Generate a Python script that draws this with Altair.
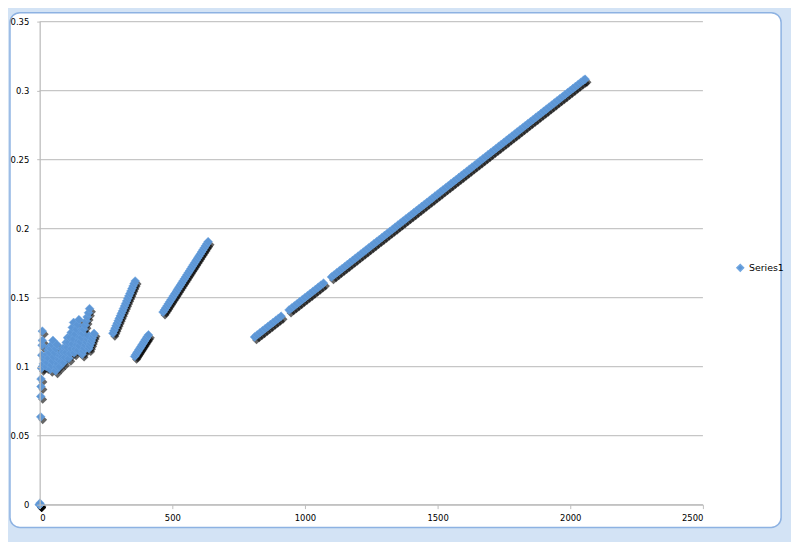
import altair as alt
import pandas as pd

# points stacked at the origin
zero_x = [0, 0, 0, 0, 1]
zero_y = [0.0, 0.0, 0.0, 0.0, 0.001]

# single points just right of the y axis
left_x = [4, 4, 5, 5, 7, 8, 9, 10, 10]
left_y = [0.0636, 0.0784, 0.0856, 0.0911, 0.0988, 0.1083, 0.1155, 0.119, 0.1257]

# dense cluster 0..200
cluster_x = [
    10, 14, 18, 23, 27, 31, 35,
    25, 29, 33, 38, 42, 46, 50,
    40, 44, 48, 53, 57, 61, 65,
    60, 64, 68, 73, 77, 81, 85,
    75, 80, 85, 90, 95, 100, 105,
    90, 95, 100, 104, 109, 114, 119, 123, 128,
    110, 115, 120, 124, 129, 134, 139, 143, 148,
    130, 135, 140, 145, 150, 155, 160,
    145, 149, 154, 158, 162, 166, 171, 175, 179, 184, 188,
    160, 164, 168, 172, 177, 181, 185,
    185, 188, 192, 195, 198, 202, 205,
]
cluster_y = [
    0.100, 0.102, 0.105, 0.107, 0.109, 0.112, 0.114,
    0.100, 0.103, 0.106, 0.110, 0.113, 0.116, 0.119,
    0.098, 0.101, 0.104, 0.107, 0.110, 0.113, 0.116,
    0.097, 0.100, 0.102, 0.105, 0.108, 0.110, 0.113,
    0.100, 0.1035, 0.107, 0.1105, 0.114, 0.1175, 0.121,
    0.103, 0.1066, 0.1103, 0.1139, 0.1175, 0.1211, 0.1248, 0.1284, 0.132,
    0.106, 0.1095, 0.113, 0.1165, 0.120, 0.1235, 0.127, 0.1305, 0.134,
    0.110, 0.1128, 0.1157, 0.1185, 0.1213, 0.1242, 0.127,
    0.112, 0.115, 0.118, 0.121, 0.124, 0.127, 0.130, 0.133, 0.136, 0.139, 0.142,
    0.109, 0.1112, 0.1133, 0.1155, 0.1177, 0.1198, 0.122,
    0.113, 0.1148, 0.1167, 0.1185, 0.1203, 0.1222, 0.124,
]

# steep run 275..360
seg3_x = [276, 280, 284, 288, 292, 296, 300, 304, 308, 312, 316,
          320, 324, 328, 332, 336, 340, 344, 348, 352, 356, 360]
seg3_y = [0.1242, 0.126, 0.1278, 0.1296, 0.1314, 0.1332, 0.135, 0.1368, 0.1386, 0.1404, 0.1422,
          0.144, 0.1458, 0.1476, 0.1494, 0.1512, 0.153, 0.1548, 0.1566, 0.1584, 0.1602, 0.162]

# short run 358..410
seg4_x = [358, 362, 366, 370, 374, 378, 382, 386, 390, 394, 398, 402, 406, 410]
seg4_y = [0.1074, 0.1086, 0.1098, 0.111, 0.1122, 0.1134, 0.1146, 0.1158, 0.117,
          0.1182, 0.1194, 0.1206, 0.1218, 0.123]

# run 465..635
seg2_x = [465, 470, 475, 480, 485, 490, 495, 500, 505, 510, 515, 520, 525, 530, 535,
          540, 545, 550, 555, 560, 565, 570, 575, 580, 585, 590, 595, 600, 605, 610,
          615, 620, 625, 630, 635]
seg2_y = [0.1395, 0.141, 0.1425, 0.144, 0.1455, 0.147, 0.1485, 0.15, 0.1515, 0.153,
          0.1545, 0.156, 0.1575, 0.159, 0.1605, 0.162, 0.1635, 0.165, 0.1665, 0.168,
          0.1695, 0.171, 0.1725, 0.174, 0.1755, 0.177, 0.1785, 0.18, 0.1815, 0.183,
          0.1845, 0.186, 0.1875, 0.189, 0.1905]

# long run 810..2056 (two small breaks)
long_x = [
    810, 820, 830, 840, 850, 860, 870, 880, 890, 900, 910,
    940, 950, 960, 970, 980, 990, 1000, 1010, 1020, 1030, 1040, 1050, 1060, 1070,
    1100, 1110, 1120, 1130, 1140, 1150, 1160, 1170, 1180, 1190,
    1200, 1210, 1220, 1230, 1240, 1250, 1260, 1270, 1280, 1290,
    1300, 1310, 1320, 1330, 1340, 1350, 1360, 1370, 1380, 1390,
    1400, 1410, 1420, 1430, 1440, 1450, 1460, 1470, 1480, 1490,
    1500, 1510, 1520, 1530, 1540, 1550, 1560, 1570, 1580, 1590,
    1600, 1610, 1620, 1630, 1640, 1650, 1660, 1670, 1680, 1690,
    1700, 1710, 1720, 1730, 1740, 1750, 1760, 1770, 1780, 1790,
    1800, 1810, 1820, 1830, 1840, 1850, 1860, 1870, 1880, 1890,
    1900, 1910, 1920, 1930, 1940, 1950, 1960, 1970, 1980, 1990,
    2000, 2010, 2020, 2030, 2040, 2050, 2056,
]
long_y = [
    0.1215, 0.123, 0.1245, 0.126, 0.1275, 0.129, 0.1305, 0.132, 0.1335, 0.135, 0.1365,
    0.141, 0.1425, 0.144, 0.1455, 0.147, 0.1485, 0.15, 0.1515, 0.153, 0.1545, 0.156,
    0.1575, 0.159, 0.1605,
    0.165, 0.1665, 0.168, 0.1695, 0.171, 0.1725, 0.174, 0.1755, 0.177, 0.1785,
    0.18, 0.1815, 0.183, 0.1845, 0.186, 0.1875, 0.189, 0.1905, 0.192, 0.1935,
    0.195, 0.1965, 0.198, 0.1995, 0.201, 0.2025, 0.204, 0.2055, 0.207, 0.2085,
    0.21, 0.2115, 0.213, 0.2145, 0.216, 0.2175, 0.219, 0.2205, 0.222, 0.2235,
    0.225, 0.2265, 0.228, 0.2295, 0.231, 0.2325, 0.234, 0.2355, 0.237, 0.2385,
    0.24, 0.2415, 0.243, 0.2445, 0.246, 0.2475, 0.249, 0.2505, 0.252, 0.2535,
    0.255, 0.2565, 0.258, 0.2595, 0.261, 0.2625, 0.264, 0.2655, 0.267, 0.2685,
    0.27, 0.2715, 0.273, 0.2745, 0.276, 0.2775, 0.279, 0.2805, 0.282, 0.2835,
    0.285, 0.2865, 0.288, 0.2895, 0.291, 0.2925, 0.294, 0.2955, 0.297, 0.2985,
    0.3, 0.3015, 0.303, 0.3045, 0.306, 0.3075, 0.3082,
]

x_ticks = [0, 500, 1000, 1500, 2000, 2500]
y_ticks = [0, 0.05, 0.1, 0.15, 0.2, 0.25, 0.3, 0.35]

xs = zero_x + left_x + cluster_x + seg3_x + seg4_x + seg2_x + long_x
ys = zero_y + left_y + cluster_y + seg3_y + seg4_y + seg2_y + long_y
df = pd.DataFrame({"x": xs, "y": ys, "series": "Series1"})
grid_df = pd.DataFrame({"y": y_ticks})

BLUE = "#5d96d5"

x_scale = alt.Scale(domain=[0, 2500], nice=False)
y_scale = alt.Scale(domain=[0, 0.35], nice=False)

x_enc = alt.X("x:Q", scale=x_scale,
              axis=alt.Axis(values=x_ticks, format="d", title=None, grid=False,
                            tickSize=4, labelPadding=5, zindex=2))
y_enc = alt.Y("y:Q", scale=y_scale,
              axis=alt.Axis(values=y_ticks, format=".2~f", title=None, grid=False,
                            tickSize=3, labelPadding=8, zindex=2))

# the white rounded chart area on the light blue window
frame = alt.Chart(pd.DataFrame({"a": [0]})).mark_rect(
    fill="white", stroke="#8db2e2", strokeWidth=1.5, cornerRadius=10
).encode(x=alt.value(-30), x2=alt.value(749), y=alt.value(-9), y2=alt.value(511))

# horizontal gridlines
grid = alt.Chart(grid_df).mark_rule(color="#c6c6c6", strokeWidth=1.3).encode(
    y=y_enc, x=alt.value(0), x2=alt.value(670),
)

shadow = alt.Chart(df).mark_point(
    shape="diamond", filled=True, size=80, color="black", opacity=0.6,
    xOffset=2, yOffset=3
).encode(x=x_enc, y=y_enc)

points = alt.Chart(df).mark_point(
    shape="diamond", filled=True, size=80, opacity=1,
    stroke="#6fa5e0", strokeWidth=0.5
).encode(
    x=x_enc, y=y_enc,
    color=alt.Color("series:N", scale=alt.Scale(range=[BLUE]),
                    legend=alt.Legend(title=None, orient="none", legendX=703, legendY=244,
                                      symbolType="diamond", symbolSize=45, padding=0,
                                      labelFontSize=9.5, labelFont="DejaVu Sans",
                                      labelColor="black")),
)

chart = (
    alt.layer(frame, grid, shadow, points)
    .properties(width=670, height=488, background="#d3e3f5",
                padding={"left": 32, "top": 11, "right": 89, "bottom": 35},
                autosize=alt.AutoSizeParams(type="none"))
    .configure_view(stroke=None)
    .configure_axis(labelFont="DejaVu Sans", labelFontSize=8.5, labelColor="black",
                    domainColor="#bdbdbd", domainWidth=1.3, tickColor="#bdbdbd")
)

chart.save("out.html", embed_options={"renderer": "svg", "actions": False})
